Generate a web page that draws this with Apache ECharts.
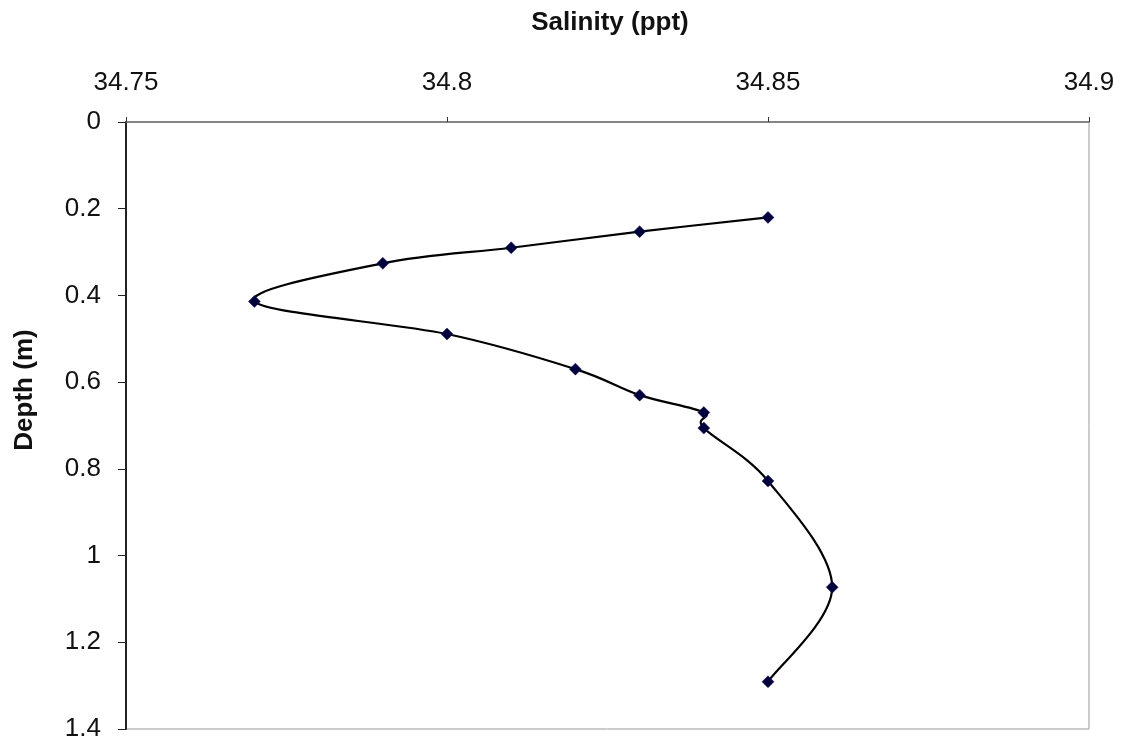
<!DOCTYPE html>
<html>
<head>
<meta charset="utf-8">
<title>Salinity profile</title>
<script src="https://cdn.jsdelivr.net/npm/echarts@6/dist/echarts.min.js"></script>
<style>
  html, body { margin: 0; padding: 0; background: #ffffff; }
  #chart { width: 1138px; height: 745px; }
</style>
</head>
<body>
<div id="chart"></div>
<script>
// Salinity measured at each depth (profile ordered from surface downward)
const salinity = [34.85, 34.83, 34.81, 34.79, 34.77, 34.80, 34.82, 34.83, 34.84, 34.84, 34.85, 34.86, 34.85];
const depth    = [0.22, 0.253, 0.29, 0.326, 0.414, 0.489, 0.57, 0.63, 0.67, 0.706, 0.828, 1.073, 1.291];

// Axis ranges
const salinityAxis = { min: 34.75, max: 34.9, step: 0.05 };
const depthAxis    = { min: 0, max: 1.4, step: 0.2 };

const points = salinity.map((s, i) => [s, depth[i]]);
const fmt = (digits) => (v) => String(+(+v).toFixed(digits));

const FONT = '"Liberation Sans", Arial, sans-serif';

// Smoothed profile line: Catmull-Rom style cubic segments between the
// measured points, positioned through the chart's own coordinate system.
function renderProfile(params, api) {
  const pts = points.map((p) => api.coord(p));
  const n = pts.length;
  const children = [];
  for (let i = 0; i < n - 1; i++) {
    const p0 = pts[Math.max(i - 1, 0)];
    const p1 = pts[i];
    const p2 = pts[i + 1];
    const p3 = pts[Math.min(i + 2, n - 1)];
    children.push({
      type: 'bezierCurve',
      shape: {
        x1: p1[0], y1: p1[1],
        cpx1: p1[0] + (p2[0] - p0[0]) / 6, cpy1: p1[1] + (p2[1] - p0[1]) / 6,
        cpx2: p2[0] - (p3[0] - p1[0]) / 6, cpy2: p2[1] - (p3[1] - p1[1]) / 6,
        x2: p2[0], y2: p2[1]
      },
      style: { stroke: '#000000', fill: null, lineWidth: 2.2 }
    });
  }
  return { type: 'group', children };
}

const chart = echarts.init(document.getElementById('chart'), null, { renderer: 'canvas' });
chart.setOption({
  animation: false,
  backgroundColor: '#ffffff',
  title: {
    text: 'Salinity (ppt)',
    left: 605,
    top: 5,
    textAlign: 'center',
    textStyle: { fontFamily: FONT, fontSize: 26, fontWeight: 'bold', color: '#111' }
  },
  graphic: [{
    type: 'text',
    x: 25,
    y: 390,
    rotation: Math.PI / 2,
    style: {
      text: 'Depth (m)',
      align: 'center',
      verticalAlign: 'middle',
      font: 'bold 26px ' + FONT,
      fill: '#111'
    }
  }],
  grid: {
    left: 126, right: 49, top: 122, bottom: 16,
    show: true, borderColor: '#999', borderWidth: 1, backgroundColor: '#ffffff'
  },
  xAxis: {
    type: 'value',
    position: 'top',
    min: salinityAxis.min,
    max: salinityAxis.max,
    interval: salinityAxis.step,
    axisLine: { show: true, lineStyle: { color: '#6e6e6e', width: 1.5 } },
    axisTick: { show: true, inside: false, length: 5, lineStyle: { color: '#333' } },
    splitLine: { show: false },
    axisLabel: {
      margin: 26,
      formatter: fmt(2),
      fontFamily: FONT, fontSize: 26, color: '#111'
    }
  },
  yAxis: {
    type: 'value',
    inverse: true,
    min: depthAxis.min,
    max: depthAxis.max,
    interval: depthAxis.step,
    axisLine: { show: true, lineStyle: { color: '#222', width: 2 } },
    axisTick: { show: true, inside: false, length: 8, lineStyle: { color: '#222' } },
    splitLine: { show: false },
    axisLabel: {
      margin: 25,
      formatter: fmt(1),
      fontFamily: FONT, fontSize: 26, color: '#111'
    }
  },
  series: [{
    type: 'custom',
    coordinateSystem: 'cartesian2d',
    data: [points[0]],
    renderItem: renderProfile,
    silent: true,
    z: 2
  }, {
    type: 'scatter',
    data: points,
    symbol: 'diamond',
    symbolSize: 12,
    itemStyle: { color: '#00003a', borderColor: '#1a1a70', borderWidth: 0.5, opacity: 1 },
    z: 3
  }]
});
</script>
</body>
</html>
